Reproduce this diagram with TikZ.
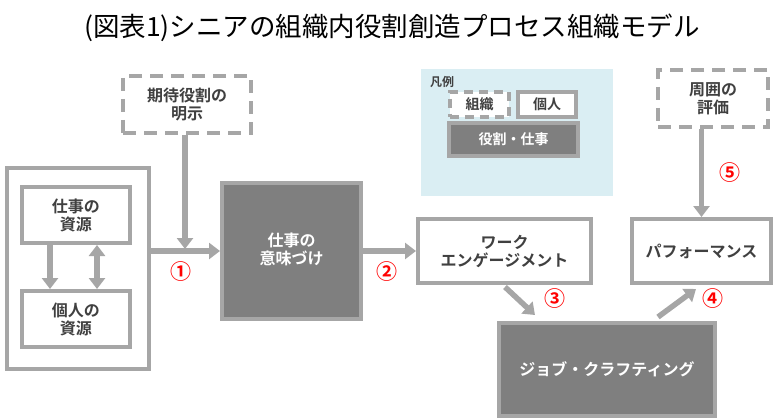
\documentclass[tikz,border=0pt]{standalone}
\usepackage{fontspec}
\setmainfont{Noto Sans CJK JP}[BoldFont={Noto Sans CJK JP Bold}]
\usetikzlibrary{arrows.meta}
\definecolor{lgray}{HTML}{A6A6A6}
\definecolor{dgray}{HTML}{7F7F7F}
\definecolor{tgray}{HTML}{404040}
\definecolor{legbg}{HTML}{DAEEF3}
\definecolor{numred}{HTML}{FF0000}
\tikzset{
  box/.style={draw=lgray, line width=4pt, fill=white, text=tgray, font=\bfseries\fontsize{16}{18}\selectfont, align=center, inner sep=0pt},
  dashbox/.style={box, dash pattern=on 13pt off 8pt},
  darkbox/.style={box, fill=dgray, text=white},
  flow/.style={draw=lgray, line width=5.5pt, -{Triangle[length=11pt,width=16pt]}},
  num/.style={text=numred, font=\bfseries\fontsize{21}{21}\selectfont, inner sep=0pt},
  legtext/.style={font=\bfseries\fontsize{14}{16}\selectfont}
}
\begin{document}
\begin{tikzpicture}[x=1pt,y=-1pt]
\useasboundingbox (0,0) rectangle (780,420);
% title
\node[font=\fontsize{26.5}{28}\selectfont, text=black] (title) at (392,28) {(図表1)シニアの組織内役割創造プロセス組織モデル};
% legend
\node[fill=legbg, minimum width=192pt, minimum height=127pt, inner sep=0pt] (legend) at (517,132.5) {};
\node[font=\bfseries\fontsize{12}{12}\selectfont, text=tgray, anchor=west, inner sep=0pt] (legtitle) at (430,82) {凡例};
\node[dashbox, legtext, line width=3.5pt, dash pattern=on 9pt off 6pt, minimum width=59pt, minimum height=25pt] (legsoshiki) at (479.5,104.5) {組織};
\node[box, legtext, line width=3.5pt, minimum width=58pt, minimum height=25pt] (legkojin) at (547,104.5) {個人};
\node[darkbox, legtext, line width=3.5pt, minimum width=129pt, minimum height=33pt] (legyaku) at (513.5,139.5) {役割・仕事};
% boxes
\node[dashbox, minimum width=128pt, minimum height=57pt] (kitai) at (187,104.5) {期待役割の\\明示};
\node[box, minimum width=142pt, minimum height=201pt] (outer) at (78,268.5) {};
\node[box, minimum width=108pt, minimum height=56pt] (shigoto) at (76,215) {仕事の\\資源};
\node[box, minimum width=108pt, minimum height=56pt] (kojin) at (76,319) {個人の\\資源};
\node[darkbox, minimum width=139pt, minimum height=136pt] (imi) at (291.5,251) {};
\node[text=white, font=\bfseries\fontsize{16}{18}\selectfont, align=center, inner sep=0pt] (imitext) at (291.5,249) {仕事の\\意味づけ};
\node[box, minimum width=173pt, minimum height=64pt] (work) at (504.5,251) {ワーク\\エンゲージメント};
\node[box, minimum width=139pt, minimum height=64pt] (perf) at (701.5,251) {パフォーマンス};
\node[dashbox, minimum width=110pt, minimum height=57pt] (shui) at (713,98.5) {周囲の\\評価};
\node[darkbox, minimum width=216pt, minimum height=93pt] (job) at (607,369.5) {ジョブ・クラフティング};
% connectors
\coordinate (meet) at (185,251);
\draw[flow] ([xshift=30pt]shigoto.south west) -- ([xshift=30pt]kojin.north west);
\draw[draw=lgray, line width=5.5pt, {Triangle[length=11pt,width=16pt]}-{Triangle[length=11pt,width=16pt]}] ([xshift=77pt]shigoto.south west) -- ([xshift=77pt]kojin.north west);
\draw[flow] (outer.east |- imi.west) -- (imi.west);
\draw[flow] (kitai.south -| meet) -- ([yshift=2pt]meet);
\draw[flow] (imi.east) -- (work.west);
\draw[flow] ([xshift=89pt,yshift=-2pt]work.south west) -- ([xshift=38pt,yshift=6pt]job.north west);
\draw[flow] ([xshift=161pt,yshift=4pt]job.north west) -- ([xshift=66pt,yshift=-4pt]perf.south west);
\draw[flow] (perf.north |- shui.south) -- (perf.north);
% numbers
\node[num] (n1) at (181,272) {①};
\node[num] (n2) at (387,272) {②};
\node[num] (n3) at (555,299) {③};
\node[num] (n4) at (713,299) {④};
\node[num] (n5) at (730,173) {⑤};
\end{tikzpicture}
\end{document}
